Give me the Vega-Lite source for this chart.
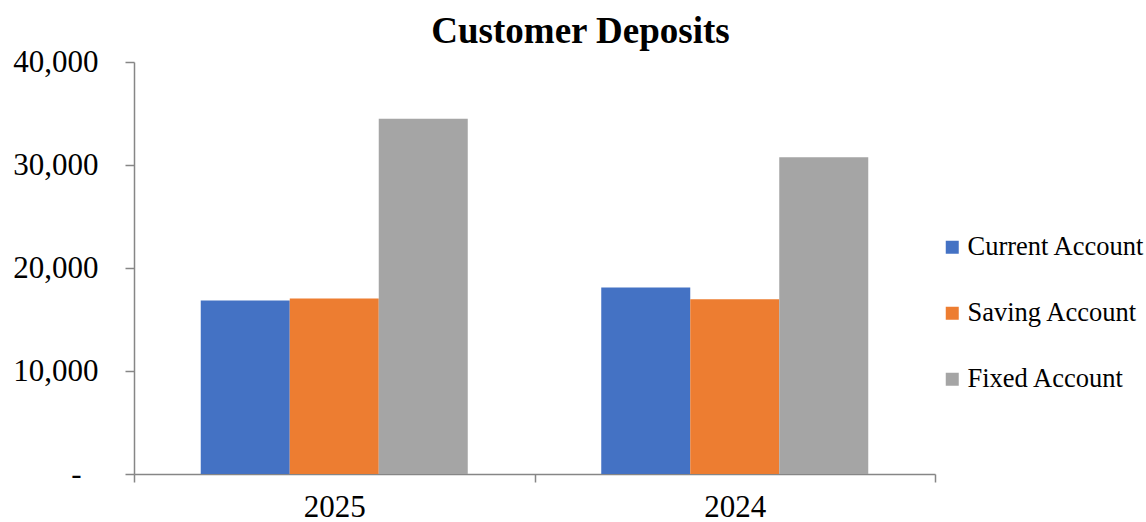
{
  "$schema": "https://vega.github.io/schema/vega-lite/v6.json",
  "width": 801,
  "height": 412,
  "autosize": "none",
  "padding": {"left": 134, "top": 62, "right": 211, "bottom": 48},
  "background": "white",
  "config": {"view": {"stroke": null}, "font": "Liberation Serif"},
  "title": {"text": "Customer Deposits", "font": "Liberation Serif", "fontSize": 37, "fontWeight": "bold", "color": "black", "anchor": "middle", "dx": 46, "offset": -5},
  "data": {"values": [
    {"year": "2025", "account": "Current Account", "amount": 16850},
    {"year": "2025", "account": "Saving Account", "amount": 17040},
    {"year": "2025", "account": "Fixed Account", "amount": 34490},
    {"year": "2024", "account": "Current Account", "amount": 18100},
    {"year": "2024", "account": "Saving Account", "amount": 16960},
    {"year": "2024", "account": "Fixed Account", "amount": 30760}
  ]},
  "mark": {"type": "bar"},
  "encoding": {
    "x": {"field": "year", "type": "nominal", "sort": ["2025", "2024"],
      "scale": {"paddingInner": 0, "paddingOuter": 0},
      "axis": {"title": null, "labelAngle": 0, "labelFontSize": 31, "labelColor": "black", "labelFont": "Liberation Serif", "labelPadding": 10, "tickBand": "extent", "tickSize": 8, "tickColor": "#868686", "domainColor": "#868686", "domainWidth": 1.5, "tickWidth": 1.5, "grid": false}},
    "xOffset": {"field": "account", "type": "nominal", "sort": ["Current Account", "Saving Account", "Fixed Account"],
      "scale": {"paddingInner": 0, "paddingOuter": 0.75}},
    "y": {"field": "amount", "type": "quantitative",
      "scale": {"domain": [0, 40000], "nice": false},
      "axis": {"title": null, "values": [0, 10000, 20000, 30000, 40000], "labelExpr": "datum.value == 0 ? '-' : format(datum.value, ',')", "labelFontSize": 31, "labelColor": "black", "labelFont": "Liberation Serif", "labelPadding": {"condition": {"test": "datum.value == 0", "value": 44}, "value": 27}, "tickSize": 9, "tickColor": "#868686", "domainColor": "#868686", "domainWidth": 1.5, "tickWidth": 1.5, "grid": false}},
    "color": {"field": "account", "type": "nominal", "sort": ["Current Account", "Saving Account", "Fixed Account"],
      "scale": {"domain": ["Current Account", "Saving Account", "Fixed Account"], "range": ["#4472C4", "#ED7D31", "#A5A5A5"]},
      "legend": {"title": null, "orient": "none", "legendX": 805, "legendY": 172, "direction": "vertical", "padding": 0, "symbolType": "square", "symbolSize": 169, "symbolStrokeWidth": 0, "labelFontSize": 26.5, "labelFont": "Liberation Serif", "labelColor": "black", "labelOffset": 2, "rowPadding": 39, "labelLimit": 300}}
  }
}
